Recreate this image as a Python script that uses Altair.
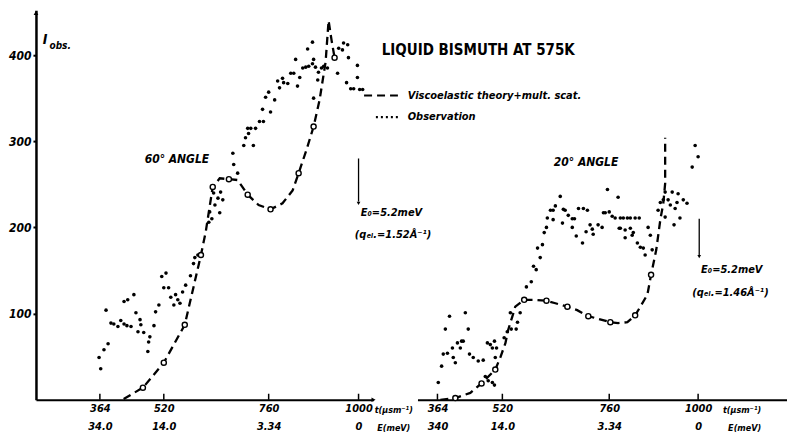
import altair as alt
import pandas as pd

# ---------------- data ----------------
tick_t = [364, 520, 760, 1000]
tick_E_left = ["34.0", "14.0", "3.34", "0"]
tick_E_right = ["340", "14.0", "3.34", "0"]
y_ticks = [100, 200, 300, 400]

# 60 degree angle
left_theory_t = [422, 469, 520, 568, 605, 616, 632, 648, 669, 689, 712, 737, 765, 797,
                 824, 840, 861, 880, 896, 912, 920, 928, 936]
left_theory_I = [1, 14, 43, 87, 168, 195, 247, 257, 256, 255, 238, 226, 221, 228,
                 243, 263, 290, 317, 348, 392, 440, 417, 397]
left_marker_t = [469, 520, 568, 605, 632, 669, 712, 765, 840, 880, 936]
left_marker_I = [14, 43, 87, 168, 247, 256, 238, 221, 263, 317, 397]
left_obs_t = [362, 366, 374, 384, 379, 391, 398, 408, 415, 423, 430, 440, 423, 432, 447,
              452, 462, 457, 471, 464, 486, 483, 481, 496, 500, 508, 515, 525, 520, 531,
              536, 543, 547, 552, 557, 563, 570, 581, 588, 591, 598, 623, 630, 625, 637,
              644, 650, 655, 634, 648, 678, 680, 689, 703, 707, 725, 714, 712, 719, 730,
              739, 748, 746, 765, 753, 760, 776, 784, 789, 797, 800, 811, 819, 827, 837,
              843, 832, 851, 859, 867, 877, 880, 885, 893, 891, 864, 877, 880, 901, 907,
              917, 944, 947, 957, 971, 960, 973, 968, 979, 987, 997, 997, 1003, 1011]
left_obs_I = [49, 36, 58, 65, 104, 89, 88, 85, 92, 88, 86, 85, 114, 116, 122,
              101, 93, 79, 78, 87, 73, 67, 56, 86, 102, 110, 143, 147, 130, 130,
              119, 110, 122, 116, 112, 125, 133, 144, 158, 165, 168, 206, 210, 218, 226,
              234, 241, 232, 240, 217, 286, 273, 263, 295, 304, 295, 309, 315, 315, 315,
              323, 323, 337, 334, 351, 357, 348, 370, 362, 373, 368, 367, 379, 379, 364,
              374, 395, 385, 386, 387, 390, 395, 386, 380, 371, 407, 415, 350, 385, 387,
              385, 379, 408, 406, 412, 414, 397, 368, 361, 361, 388, 374, 360, 360]

# 20 degree angle
right_theory_t = [371, 407, 443, 470, 503, 515, 527, 533, 542, 549, 569, 590, 619, 639,
                  666, 688, 713, 735, 763, 784, 809, 830, 844, 863, 873, 887, 898, 906,
                  911, 911]
right_theory_I = [0, 2, 8, 19, 35, 49, 66, 81, 96, 108, 116, 116, 115, 112,
                  108, 104, 97, 94, 90, 89, 90, 98, 108, 122, 145, 174, 209, 228,
                  251, 304]
right_marker_t = [407, 470, 503, 569, 619, 666, 713, 763, 830, 873]
right_marker_I = [2, 19, 35, 116, 115, 108, 97, 90, 98, 145]
right_obs_t = [366, 374, 378, 383, 393, 388, 400, 402, 407, 412, 419, 422, 426, 431, 438,
               441, 450, 462, 474, 484, 491, 496, 501, 506, 503, 479, 486, 496, 501, 524,
               531, 540, 551, 554, 538, 560, 574, 585, 590, 596, 599, 610, 605, 614, 619,
               621, 628, 634, 639, 650, 657, 661, 634, 655, 668, 677, 682, 677, 686, 691,
               702, 711, 700, 708, 717, 722, 724, 735, 744, 747, 756, 760, 768, 776, 784,
               787, 751, 790, 798, 809, 817, 830, 841, 790, 803, 817, 825, 803, 822, 836,
               844, 852, 857, 876, 865, 871, 892, 898, 906, 911, 919, 925, 930, 938, 946,
               943, 960, 970, 951, 935, 911, 992, 1000, 984]
right_obs_I = [20, 39, 53, 82, 97, 54, 60, 49, 43, 66, 60, 68, 68, 101, 82,
               53, 49, 45, 46, 66, 64, 60, 68, 60, 49, 27, 22, 20, 17, 72,
               79, 82, 82, 90, 101, 101, 131, 137, 155, 151, 176, 180, 165, 194, 200,
               211, 220, 220, 225, 236, 221, 220, 209, 205, 214, 210, 210, 200, 190, 222,
               222, 220, 182, 195, 203, 198, 192, 203, 200, 217, 244, 218, 213, 211, 235,
               199, 217, 211, 211, 211, 211, 211, 211, 199, 197, 199, 194, 188, 191, 182,
               177, 176, 168, 174, 200, 191, 220, 229, 232, 241, 232, 226, 241, 222, 239,
               229, 232, 228, 211, 203, 212, 295, 282, 270]

# ---------------- styling ----------------
FONT = "DejaVu Sans Condensed, DejaVu Sans, sans-serif"
TITLE_FONT = "DejaVu Sans Condensed, Liberation Sans, sans-serif"
H = 390
LW, RW = 338, 370
y_scale = alt.Scale(domain=[0, 452], nice=False, zero=True)
xl_scale = alt.Scale(domain=[208, 364, 520, 760, 1000, 1040],
                     range=[0, 64, 128, 233, 323, 338], nice=False, zero=False)
xr_scale = alt.Scale(domain=[315, 364, 520, 760, 1000, 1240],
                     range=[0, 20, 85, 192, 281, 370], nice=False, zero=False)


def label_expr(labels):
    parts = [f"datum.value == {t} ? ['{t}', '{e}']" for t, e in zip(tick_t, labels)]
    return " : ".join(parts) + " : ''"


def x_axis(labels):
    return alt.Axis(values=tick_t, ticks=False, grid=False, title=None,
                    domainColor="black", domainWidth=2,
                    labelExpr=label_expr(labels), labelFont=FONT, labelFontSize=11,
                    labelFontWeight="bold", labelFontStyle="italic", labelColor="black",
                    labelLineHeight=18, labelPadding=3, labelFlush=False,
                    labelOverlap=False)


y_axis = alt.Axis(values=y_ticks, grid=False, title=None, domainColor="black",
                  domainWidth=2.5, tickColor="black", tickSize=3, tickWidth=2,
                  labelFont=FONT, labelFontSize=12, labelFontWeight="bold",
                  labelFontStyle="italic", labelColor="black", labelPadding=2)


def df(t, I):
    return pd.DataFrame({"t": t, "I": I, "i": list(range(len(t)))})


def panel(theory_t, theory_I, mk_t, mk_I, obs_t, obs_I, xs, xax, yax, notes, width):
    X = alt.X("t:Q", scale=xs, axis=xax)
    Y = alt.Y("I:Q", scale=y_scale, axis=yax)
    theory = alt.Chart(df(theory_t, theory_I)).mark_line(
        color="black", strokeWidth=2.3, strokeDash=[8, 5]).encode(x=X, y=Y, order="i:Q")
    markers = alt.Chart(df(mk_t, mk_I)).mark_point(
        shape="circle", size=26, filled=False, fill="white", fillOpacity=1,
        stroke="black", strokeWidth=1.4, opacity=1).encode(x=X, y=Y)
    obs = alt.Chart(df(obs_t, obs_I)).mark_circle(
        size=13, color="black", opacity=1).encode(x=X, y=Y)
    ticks = alt.Chart(pd.DataFrame({"t": tick_t, "I": [0] * 4, "I2": [7] * 4})).mark_rule(
        color="black", strokeWidth=1.5).encode(x=X, y=Y, y2="I2:Q")
    return alt.layer(ticks, theory, obs, markers, *notes).properties(width=width, height=H)


def text(t, I, label, size=11, align="left", weight="bold", style="italic", font=FONT):
    return alt.Chart(pd.DataFrame({"t": [t], "I": [I], "label": [label]})).mark_text(
        align=align, baseline="middle", font=font, fontSize=size, fontWeight=weight,
        fontStyle=style, color="black").encode(x="t:Q", y="I:Q", text="label:N")


def arrow(t, top, bottom):
    r = alt.Chart(pd.DataFrame({"t": [t], "I": [top], "I2": [bottom]})).mark_rule(
        color="black", strokeWidth=1.3).encode(x="t:Q", y="I:Q", y2="I2:Q")
    h = alt.Chart(pd.DataFrame({"t": [t], "I": [bottom - 2]})).mark_point(
        shape="triangle-down", size=14, filled=True, color="black", opacity=1).encode(
        x="t:Q", y="I:Q")
    return [r, h]


left_notes = [
    text(230, 417, "I", size=14, align="center"),
    text(241, 410, "obs.", size=10),
    text(550, 279, "60° ANGLE", size=12, align="center"),
    *arrow(1000, 280, 230),
    text(1006, 217, "E₀=5.2meV", size=11),
    text(990, 191, "(qₑₗ.=1.52Å⁻¹)", size=11),
    text(1043, -12, "t(μsm⁻¹)", size=9),
    text(1050, -33, "E(meV)", size=9),
    alt.Chart(pd.DataFrame({"t": [208], "I": [449]})).mark_point(
        shape="triangle-up", size=22, filled=True, color="black", opacity=1).encode(
        x="t:Q", y="I:Q"),
    alt.Chart(pd.DataFrame({"t": [1040], "I": [0]})).mark_point(
        shape="triangle-right", size=22, filled=True, color="black", opacity=1).encode(
        x="t:Q", y="I:Q"),
]

right_notes = [
    text(462, 406, "LIQUID BISMUTH AT 575K", size=15, align="center", style="normal",
         font=TITLE_FONT),
    alt.Chart(pd.DataFrame({"t": [184], "I": [353], "t2": [267]})).mark_rule(
        color="black", strokeWidth=2, strokeDash=[8, 5]).encode(x="t:Q", x2="t2:Q", y="I:Q"),
    alt.Chart(pd.DataFrame({"t": [213], "I": [328], "t2": [267]})).mark_rule(
        color="black", strokeWidth=2.5, strokeDash=[2, 3]).encode(x="t:Q", x2="t2:Q", y="I:Q"),
    text(291, 353, "Viscoelastic theory+mult. scat.", size=11),
    text(291, 328, "Observation", size=11),
    text(708, 276, "20° ANGLE", size=12, align="center"),
    *arrow(1003, 210, 168),
    text(1008, 151, "E₀=5.2meV", size=11),
    text(984, 124, "(qₑₗ.=1.46Å⁻¹)", size=11),
    text(1067, -12, "t(μsm⁻¹)", size=9),
    text(1081, -33, "E(meV)", size=9),
]

left = panel(left_theory_t, left_theory_I, left_marker_t, left_marker_I,
             left_obs_t, left_obs_I, xl_scale, x_axis(tick_E_left), y_axis,
             left_notes, LW)
right = panel(right_theory_t, right_theory_I, right_marker_t, right_marker_I,
              right_obs_t, right_obs_I, xr_scale, x_axis(tick_E_right), None,
              right_notes, RW)

chart = alt.hconcat(left, right, spacing=44, bounds="flush").resolve_scale(
    x="independent").properties(
    padding={"top": 2, "left": 0, "right": 0, "bottom": 0},
    background="white").configure_view(stroke=None)

chart.save("out.html", embed_options={"renderer": "svg", "actions": False})
